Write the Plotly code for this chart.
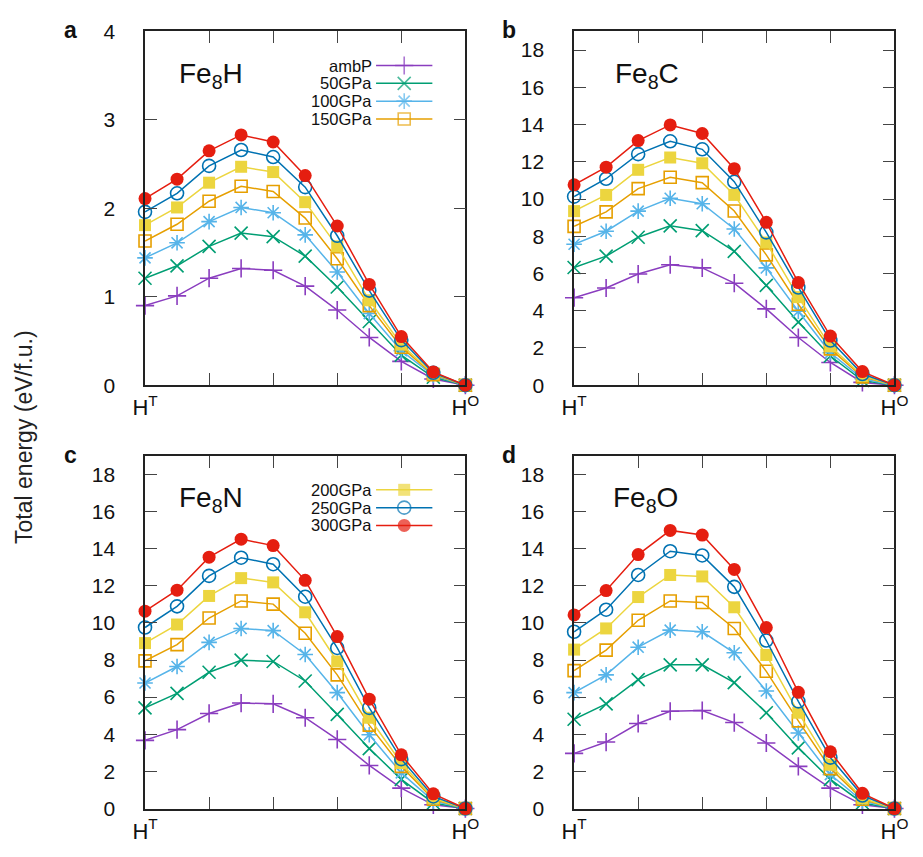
import plotly.graph_objects as go

W, H = 923, 857

x_pos = list(range(11))
series_names = ["ambP", "50GPa", "100GPa", "150GPa", "200GPa", "250GPa", "300GPa"]
colors = ["#8a3dbf", "#009e73", "#56b4e9", "#e69f00", "#ecd53f", "#0072b2", "#e51e10"]
symbols = ["cross-thin", "x-thin", "asterisk-open", "square-open", "square", "circle-open", "circle"]
msizes = [13, 13, 13, 12, 12, 13, 13]

x_ticks = [0, 2, 4, 6, 8, 10]
x_ticktext = ["H<sup>T</sup>", "", "", "", "", "H<sup>O</sup>"]

fe8h = [
    [0.90, 1.01, 1.21, 1.32, 1.30, 1.12, 0.85, 0.54, 0.27, 0.07, 0],
    [1.21, 1.35, 1.57, 1.72, 1.68, 1.46, 1.11, 0.72, 0.34, 0.09, 0],
    [1.44, 1.61, 1.85, 2.01, 1.95, 1.70, 1.28, 0.81, 0.39, 0.11, 0],
    [1.63, 1.82, 2.08, 2.25, 2.19, 1.89, 1.43, 0.90, 0.43, 0.12, 0],
    [1.81, 2.01, 2.29, 2.47, 2.41, 2.07, 1.57, 0.96, 0.46, 0.13, 0],
    [1.96, 2.17, 2.48, 2.66, 2.58, 2.24, 1.69, 1.07, 0.51, 0.14, 0],
    [2.11, 2.33, 2.65, 2.83, 2.75, 2.37, 1.80, 1.14, 0.55, 0.15, 0],
]
fe8c = [
    [4.70, 5.22, 5.97, 6.47, 6.30, 5.48, 4.10, 2.56, 1.22, 0.15, 0],
    [6.32, 6.93, 7.95, 8.56, 8.30, 7.19, 5.36, 3.39, 1.57, 0.25, 0],
    [7.57, 8.27, 9.35, 10.04, 9.75, 8.39, 6.30, 3.97, 1.74, 0.35, 0],
    [8.53, 9.31, 10.56, 11.17, 10.88, 9.36, 7.00, 4.35, 1.95, 0.45, 0],
    [9.35, 10.22, 11.57, 12.23, 11.92, 10.22, 7.66, 4.73, 2.09, 0.50, 0],
    [10.13, 11.09, 12.41, 13.10, 12.67, 10.93, 8.21, 5.25, 2.40, 0.60, 0],
    [10.76, 11.71, 13.14, 13.98, 13.52, 11.63, 8.75, 5.51, 2.64, 0.73, 0],
]
fe8n = [
    [3.67, 4.25, 5.12, 5.68, 5.64, 4.89, 3.72, 2.32, 1.10, 0.20, 0],
    [5.42, 6.20, 7.34, 7.99, 7.92, 6.87, 5.07, 3.23, 1.57, 0.30, 0],
    [6.76, 7.65, 8.95, 9.70, 9.58, 8.30, 6.24, 3.97, 1.92, 0.40, 0],
    [7.95, 8.83, 10.26, 11.18, 11.01, 9.44, 7.20, 4.49, 2.27, 0.50, 0],
    [8.91, 9.91, 11.45, 12.41, 12.18, 10.57, 7.92, 4.89, 2.45, 0.55, 0],
    [9.75, 10.89, 12.53, 13.51, 13.16, 11.41, 8.65, 5.42, 2.66, 0.65, 0],
    [10.63, 11.76, 13.54, 14.51, 14.16, 12.29, 9.26, 5.89, 2.89, 0.79, 0],
]
fe8o = [
    [2.97, 3.58, 4.58, 5.24, 5.28, 4.63, 3.53, 2.27, 1.10, 0.20, 0],
    [4.81, 5.64, 6.94, 7.74, 7.74, 6.78, 5.16, 3.27, 1.57, 0.30, 0],
    [6.24, 7.20, 8.69, 9.61, 9.52, 8.39, 6.33, 4.07, 1.83, 0.40, 0],
    [7.43, 8.53, 10.14, 11.18, 11.10, 9.70, 7.39, 4.72, 2.15, 0.50, 0],
    [8.56, 9.70, 11.39, 12.58, 12.50, 10.84, 8.27, 5.16, 2.36, 0.55, 0],
    [9.52, 10.71, 12.58, 13.86, 13.63, 11.94, 9.05, 5.77, 2.74, 0.70, 0],
    [10.43, 11.74, 13.68, 14.98, 14.73, 12.88, 9.75, 6.26, 3.06, 0.82, 0],
]

panels = [
    dict(data=fe8h, title="Fe<sub>8</sub>H", letter="a", yr=[0, 4], yt=[0, 1, 2, 3, 4]),
    dict(data=fe8c, title="Fe<sub>8</sub>C", letter="b", yr=[0, 19], yt=list(range(0, 19, 2))),
    dict(data=fe8n, title="Fe<sub>8</sub>N", letter="c", yr=[0, 19], yt=list(range(0, 19, 2))),
    dict(data=fe8o, title="Fe<sub>8</sub>O", letter="d", yr=[0, 19], yt=list(range(0, 19, 2))),
]

# panel frames in pixels (left, right, top, bottom)
frames = [(136, 466, 20, 383.5), (578, 908, 20, 383.5), (136, 466, 456, 818.5), (578, 908, 456, 818.5)]
title_dx = [33, 40, 33, 38]
letter_dx = [-86, -76, -86, -76]

def px(v):
    return v / W

def py(v):
    return 1 - v / H

FONT = "Liberation Sans, Arial, sans-serif"
THIN = ("cross-thin", "x-thin")

def marker_style(k, size):
    sym = symbols[k]
    if sym in THIN or sym.endswith("-open"):
        return dict(symbol=sym, size=size, color=colors[k], line=dict(color=colors[k], width=1.6))
    return dict(symbol=sym, size=size, color=colors[k], line=dict(width=0))

fig = go.Figure()
layout = dict(
    width=W, height=H, margin=dict(l=0, r=0, t=0, b=0),
    paper_bgcolor="white", plot_bgcolor="rgba(0,0,0,0)", showlegend=False,
    font=dict(family=FONT, color="#111"),
)

annotations = []
for i, (p, fr) in enumerate(zip(panels, frames)):
    n = i + 1
    xa = "x" if n == 1 else f"x{n}"
    ya = "y" if n == 1 else f"y{n}"
    for k in range(len(series_names)):
        fig.add_trace(go.Scatter(
            x=x_pos, y=p["data"][k], mode="lines+markers", xaxis=xa, yaxis=ya,
            name=series_names[k], line=dict(color=colors[k], width=1.5),
            marker=marker_style(k, msizes[k]),
            showlegend=False, cliponaxis=False,
        ))
    l, r, t, b = fr
    common = dict(showgrid=False, zeroline=False, showline=True, linecolor="#222", linewidth=1.5,
                  mirror="allticks", ticks="inside", ticklen=12, tickwidth=1.2, tickcolor="#444")
    layout["xaxis" if n == 1 else f"xaxis{n}"] = dict(
        domain=[px(l), px(r)], range=[0, 10], anchor=ya, tickvals=x_ticks, ticktext=x_ticktext,
        tickfont=dict(size=22, family=FONT, color="#111"), ticklabelstandoff=2, **common)
    layout["yaxis" if n == 1 else f"yaxis{n}"] = dict(
        domain=[py(b), py(t)], range=p["yr"], anchor=xa, tickvals=p["yt"],
        tickfont=dict(size=21, family=FONT, color="#111"), ticklabelstandoff=24, **common)
    # title
    annotations.append(dict(xref="paper", yref="paper", x=px(l + title_dx[i]), y=py(t + 45), xanchor="left",
                            yanchor="middle", text=p["title"], showarrow=False,
                            font=dict(size=28, family=FONT, color="#111")))
    # letter
    annotations.append(dict(xref="paper", yref="paper", x=px(l + letter_dx[i]), y=py(t - 1), xanchor="left",
                            yanchor="middle", text=f"<b>{p['letter']}</b>", showarrow=False,
                            font=dict(size=23, family=FONT, color="#111")))

annotations.append(dict(xref="paper", yref="paper", x=px(12), y=py(437), textangle=-90, xanchor="center",
                        yanchor="middle", text="Total energy (eV/f.u.)", showarrow=False,
                        font=dict(size=23, family=FONT, color="#222")))

# custom legend (text on the left, key on the right), as in the original
legend_rows = [(0, 55), (1, 73.3), (2, 91.6), (3, 110), (4, 491), (5, 509.3), (6, 527.6)]
layout["xaxis5"] = dict(domain=[0, 1], range=[0, W], visible=False, anchor="y5", fixedrange=True)
layout["yaxis5"] = dict(domain=[0, 1], range=[H, 0], visible=False, anchor="x5", fixedrange=True)
for k, yy in legend_rows:
    fig.add_trace(go.Scatter(
        x=[374, 403, 432], y=[yy, yy, yy], xaxis="x5", yaxis="y5", mode="lines+markers",
        line=dict(color=colors[k], width=1.5),
        marker=marker_style(k, [0, msizes[k], 0]),
        showlegend=False, hoverinfo="skip"))
    annotations.append(dict(xref="paper", yref="paper", x=px(371), y=py(yy), xanchor="right", yanchor="middle",
                            text=series_names[k], showarrow=False, borderpad=0,
                            font=dict(size=16.5, family=FONT, color="#111")))

layout["annotations"] = annotations
fig.update_layout(**layout)
fig.write_html("out.html")
